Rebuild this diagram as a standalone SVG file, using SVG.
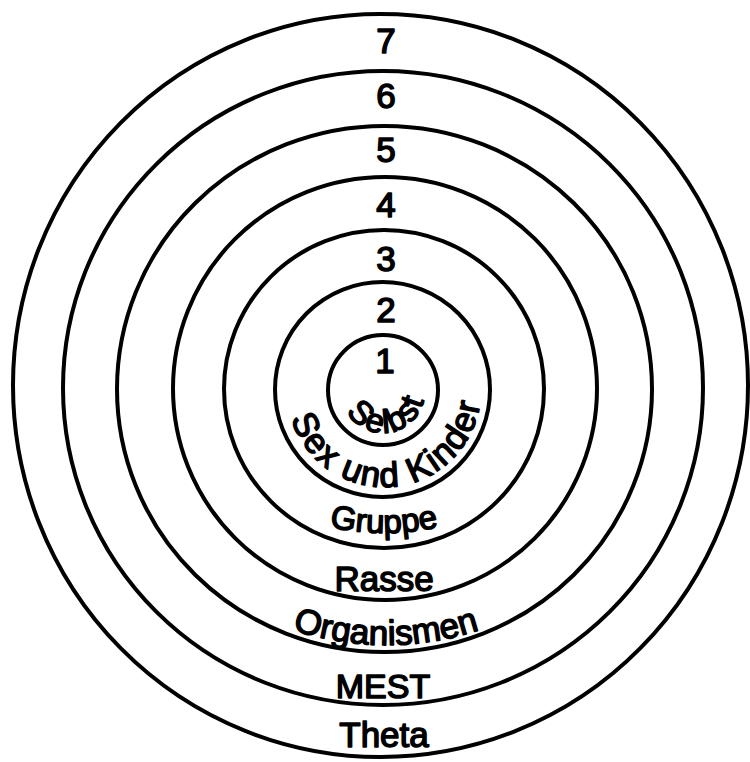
<svg xmlns="http://www.w3.org/2000/svg" width="750" height="762" viewBox="0 0 750 762">
<style>
.ring{fill:none;stroke:#000;stroke-width:4}
text{font-family:"Liberation Sans",Arial,Helvetica,sans-serif;fill:#000;stroke:#000;stroke-width:1.5;stroke-linejoin:round;text-anchor:middle}
.num{font-size:35px}
.lbl{font-size:35px}
</style>
<defs>
<path id="pSelbst" d="M 383,349 A 42 42 0 0 0 383,433 A 42 42 0 0 0 383,349"/>
<path id="pSex" d="M 384,293 A 97 97 0 0 0 384,487 A 97 97 0 0 0 384,293"/>
<path id="pGruppe" d="M 134,283 A 250 250 0 0 0 634,283"/>
<path id="pOrg" d="M 86,345 A 300 300 0 0 0 686,345"/>
</defs>
<rect width="750" height="762" fill="#fff"/>
<g id="ring7"><ellipse class="ring" cx="380.5" cy="385.5" rx="367.5" ry="371.5"/><text class="num" x="386" y="53">7</text><text class="lbl" x="384" y="747">Theta</text></g>
<g id="ring6"><ellipse class="ring" cx="383" cy="388" rx="320" ry="317"/><text class="num" x="386" y="108">6</text><text class="lbl" x="383" y="698" style="font-size:34px">MEST</text></g>
<g id="ring5"><ellipse class="ring" cx="384.5" cy="389" rx="267.5" ry="263"/><text class="num" x="386" y="162">5</text><text class="lbl"><textPath href="#pOrg" startOffset="50%">Organismen</textPath></text></g>
<g id="ring4"><ellipse class="ring" cx="385" cy="388.5" rx="212" ry="211.5"/><text class="num" x="386" y="217">4</text><text class="lbl" x="384" y="591">Rasse</text></g>
<g id="ring3"><ellipse class="ring" cx="384" cy="389" rx="160" ry="159"/><text class="num" x="386" y="271">3</text><text class="lbl" style="font-size:33px"><textPath href="#pGruppe" startOffset="50%">Gruppe</textPath></text></g>
<g id="ring2"><ellipse class="ring" cx="382.5" cy="389.5" rx="107.5" ry="107.5"/><text class="num" x="386" y="322">2</text><text class="lbl" style="font-size:35px"><textPath href="#pSex" startOffset="312" textLength="262">Sex und Kinder</textPath></text></g>
<g id="ring1"><ellipse class="ring" cx="383" cy="390" rx="55" ry="55"/><text class="num" x="385" y="373">1</text><text class="lbl" style="font-size:33px"><textPath href="#pSelbst" startOffset="138" textLength="100">Selbst</textPath></text></g>
</svg>
